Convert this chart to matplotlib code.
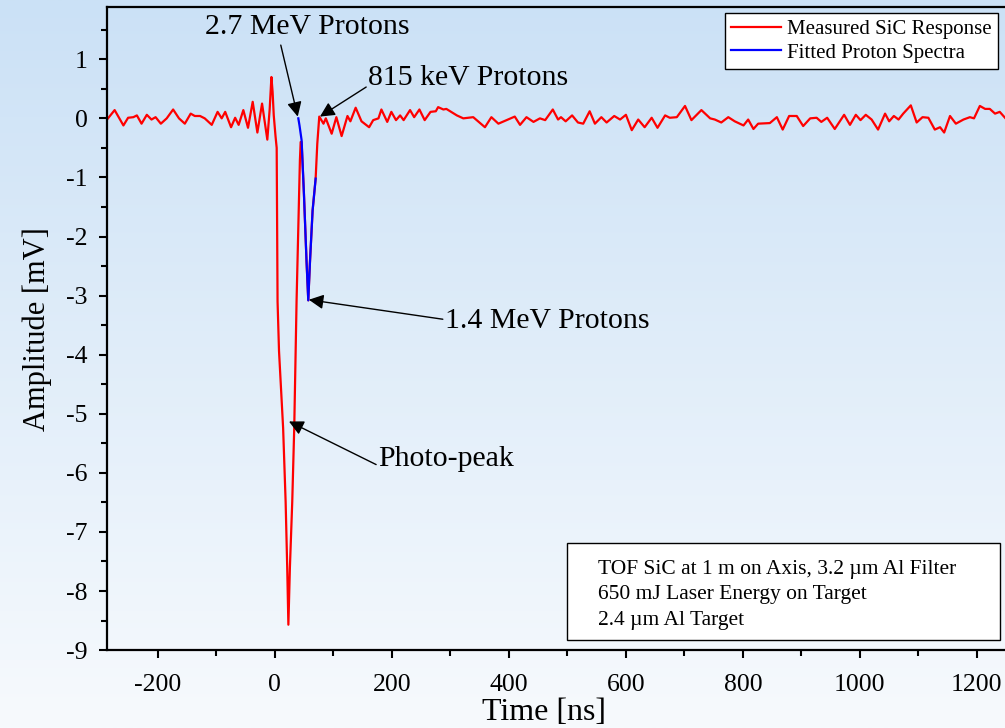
import numpy as np
import matplotlib
matplotlib.use("Agg")
import matplotlib.pyplot as plt
from matplotlib.patches import Rectangle

plt.rcParams['font.family'] = ['Liberation Serif', 'DejaVu Serif']
plt.rcParams['axes.unicode_minus'] = False

time_ns = [-287, -274, -259, -251, -242, -236, -228, -219, -211, -204, -195, -185,
           -174, -164, -154, -144, -137, -128, -120, -108, -98, -91, -85, -75, -68,
           -62, -54, -46, -38, -30, -22, -13, -9, -6, -4, -2, 1, 3, 4.5, 7, 14, 18.3,
           21, 23, 25.6, 29.6, 33, 35.4, 37, 40, 42.7, 44, 45.6, 49.6, 54, 57, 60,
           64.4, 69.6, 72.4, 75.8, 83, 87, 97, 105, 114, 124, 129, 138, 148, 161,
           168, 177, 182, 192, 199, 207, 214, 220, 231, 238, 247, 256, 266, 275,
           279, 288, 293, 311, 322, 339, 359, 370, 382, 396, 410, 419, 430, 442,
           453, 462, 475, 484, 489, 497, 508, 518, 527, 538, 547, 558, 567, 580,
           590, 600, 610, 621, 632, 644, 654, 667, 675, 687, 701, 712, 729, 744,
           752, 763, 775, 786, 801, 809, 818, 826, 846, 858, 868, 879, 892, 903,
           915, 926, 934, 944, 957, 973, 983, 993, 1001, 1010, 1020, 1031, 1043,
           1050, 1058, 1066, 1074, 1087, 1097, 1107, 1117, 1128, 1137, 1144, 1154,
           1164, 1177, 1188, 1195, 1205, 1214, 1222, 1231, 1239, 1248]
signal_mv = [-0.02, 0.14, -0.12, 0.01, 0.02, 0.05, -0.09, 0.06, -0.02, 0.02, -0.09, 0.00,
             0.15, 0.00, -0.09, 0.08, 0.04, 0.04, 0.00, -0.11, 0.11, 0.00, 0.11, -0.15, 0.01,
             -0.11, 0.14, -0.16, 0.28, -0.24, 0.25, -0.36, 0.15, 0.70, 0.45, 0.05, -0.30, -0.50, -3.10, -3.94, -5.24, -6.49,
             -7.60, -8.57, -7.60, -6.49, -5.24, -3.94, -3.09, -1.85, -0.71, -0.40, -0.40, -1.28, -2.41, -3.08, -2.41,
             -1.56, -1.02, -0.43, 0.03, -0.09, 0.00, -0.26, 0.02, -0.30, 0.04, -0.05, 0.18, -0.05, -0.15,
             -0.03, 0.00, 0.15, -0.06, 0.11, -0.03, 0.05, -0.03, 0.14, 0.02, 0.15, -0.03, 0.11, 0.12,
             0.19, 0.15, 0.16, 0.05, 0.00, 0.02, -0.15, 0.02, -0.09, -0.03, 0.03, -0.11, 0.02, -0.06,
             0.00, -0.03, 0.15, -0.02, 0.02, -0.05, 0.05, -0.07, -0.09, 0.12, -0.09, 0.02, -0.07, 0.04,
             -0.02, 0.06, -0.20, -0.02, -0.15, 0.01, -0.16, 0.05, 0.01, 0.02, 0.21, -0.03, 0.14, 0.00,
             -0.02, -0.07, 0.02, -0.05, -0.12, -0.02, -0.18, -0.09, -0.08, 0.02, -0.19, 0.04, 0.04, -0.13,
             0.00, 0.01, -0.06, 0.01, -0.18, 0.06, -0.11, 0.06, -0.03, 0.06, -0.02, -0.19, 0.08,
             -0.05, 0.04, -0.02, 0.08, 0.22, -0.07, 0.02, 0.01, -0.19, -0.15, -0.24, 0.04,
             -0.09, -0.02, 0.02, 0.00, 0.21, 0.16, 0.16, 0.08, 0.11, 0.01]

# fitted proton spectrum
fit_time_ns = [40, 42, 45.6, 49.6, 54, 57, 60, 64.4, 69.6]
fit_mv = [0.00, -0.12, -0.37, -1.28, -2.41, -3.08, -2.41, -1.56, -1.02]

# annotations: label, text position, arrow tail, arrow tip (data units)
labels = ["2.7 MeV Protons", "815 keV Protons", "1.4 MeV Protons", "Photo-peak"]
text_pos = [(54.7, 1.55), (331, 0.68), (465, -3.43), (292, -5.76)]
arrow_tail = [(10, 1.24), (156, 0.53), (287, -3.40), (173, -5.86)]
arrow_tip = [(39, 0.03), (77, 0.03), (58, -3.07), (24, -5.13)]

info_lines = ["TOF SiC at 1 m on Axis, 3.2 µm Al Filter",
              "650 mJ Laser Energy on Target",
              "2.4 µm Al Target"]

fig = plt.figure(figsize=(10.05, 7.28), dpi=100)

# gradient backdrop behind everything
bg = fig.add_axes([0, 0, 1, 1], zorder=-10)
grad = np.linspace(0, 1, 256).reshape(-1, 1)
top = np.array([203, 225, 246]) / 255
bottom = np.array([247, 250, 253]) / 255
img = top[None, None, :] * (1 - grad[:, :, None]) + bottom[None, None, :] * grad[:, :, None]
bg.imshow(img, aspect='auto', extent=[0, 1, 0, 1])
bg.axis('off')

ax = fig.add_axes([0.1065, 0.107, 0.8935, 0.883])
ax.set_facecolor('none')

ax.plot(time_ns, signal_mv, color='red', lw=1.6, label='Measured SiC Response')
ax.plot(fit_time_ns, fit_mv, color='blue', lw=1.6, label='Fitted Proton Spectra')

ax.set_xlim(-287, 1248)
ax.set_ylim(-9.0, 1.88)
ax.set_xticks(range(-200, 1201, 200))
ax.set_xticks(range(-200, 1201, 100), minor=True)
ax.set_yticks(range(-9, 2))
ax.set_yticks(np.arange(-9, 1.6, 0.5), minor=True)
ax.tick_params(which='major', direction='out', length=6, width=1.5, labelsize=18.5)
ax.tick_params(axis='y', which='major', pad=8)
ax.tick_params(axis='x', which='major', pad=11)
ax.tick_params(which='minor', direction='out', length=4, width=1.5)
for s in ['left', 'bottom', 'top']:
    ax.spines[s].set_linewidth(1.6)
ax.spines['right'].set_visible(False)

ax.set_xlabel('Time [ns]', fontsize=23)
ax.set_ylabel('Amplitude [mV]', fontsize=22, labelpad=10)
ax.xaxis.set_label_coords(0.487, -0.075)

for lab, tp, tail, tip in zip(labels, text_pos, arrow_tail, arrow_tip):
    ax.text(tp[0], tp[1], lab, fontsize=21.5, ha='center', va='center')
    ax.annotate('', xy=tip, xytext=tail,
                arrowprops=dict(arrowstyle='-|>', color='black', lw=1,
                                mutation_scale=22, shrinkA=0, shrinkB=0))

leg = ax.legend(loc='upper right', bbox_to_anchor=(0.993, 0.982),
                bbox_transform=fig.transFigure, fontsize=15, frameon=True,
                fancybox=False, edgecolor='black', framealpha=1,
                handlelength=2.4, labelspacing=0.2, borderpad=0.3,
                handletextpad=0.3, borderaxespad=0)
leg.get_frame().set_linewidth(1)

fig.patches.append(Rectangle((567 / 1005, 1 - 640 / 728), 433 / 1005, 97 / 728,
                             transform=fig.transFigure, facecolor='white',
                             edgecolor='black', lw=1, zorder=5))
fig.text(598 / 1005, 1 - 595 / 728, "\n".join(info_lines), fontsize=15.5,
         ha='left', va='center', linespacing=1.47, zorder=6)

fig.savefig('out.png', dpi=100)
